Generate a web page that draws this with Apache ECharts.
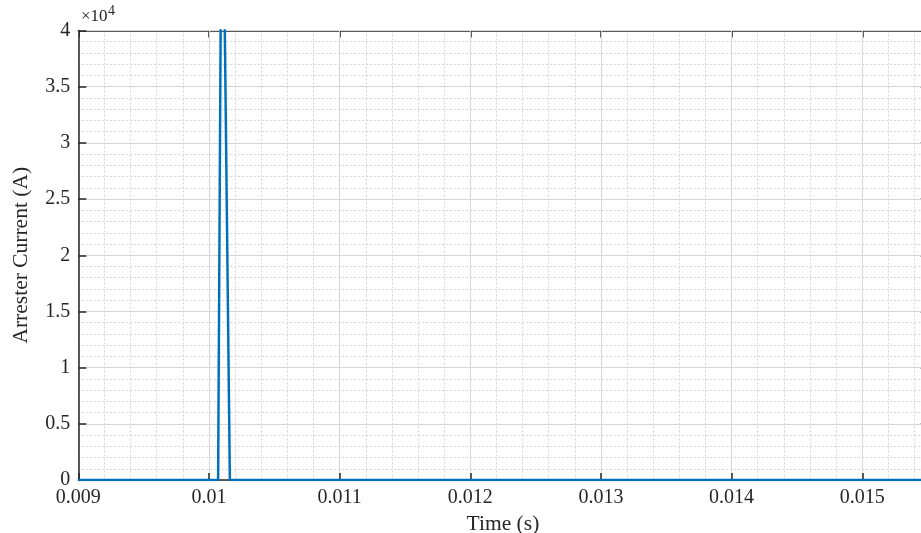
<!DOCTYPE html>
<html>
<head>
<meta charset="utf-8">
<script src="https://cdn.jsdelivr.net/npm/echarts@6/dist/echarts.min.js"></script>
<style>
  html, body { margin: 0; padding: 0; background: #fff; }
  #chart { width: 921px; height: 533px; }
</style>
</head>
<body>
<div id="chart"></div>
<script>
// Arrester current during the surge (time in s, current in A)
const timeS = [0.009, 0.01007, 0.0101, 0.01016, 0.0155];
const currentA = [0, 0, 62000, 0, 0];

// Axis ranges and tick steps
const xRange = [0.009, 0.0155];
const xStep = 0.001;
const xMinorStep = 0.0002;
const yRange = [0, 40000];
const yStep = 5000;
const yScaleExp = 4;

const FONT = '"Liberation Serif", "Times New Roman", serif';
const TEXT = '#262626';
const AXIS = '#262626';

const chart = echarts.init(document.getElementById('chart'), null, { renderer: 'canvas' });

const points = timeS.map((t, i) => [t, currentA[i]]);

function fmtX(v) {
  return String(Number(v.toFixed(4)));
}

chart.setOption({
  animation: false,
  backgroundColor: '#ffffff',
  grid: {
    left: 78.3, top: 30.5, bottom: 53, right: -6.6,
    containLabel: false, outerBoundsMode: 'none'
  },
  xAxis: [
    {
      type: 'value', min: xRange[0], max: xRange[1], interval: xStep,
      position: 'bottom',
      name: 'Time (s)', nameLocation: 'middle', nameGap: 29,
      nameTextStyle: { fontFamily: FONT, fontSize: 21.5, color: TEXT },
      axisLine: { show: true, onZero: false, lineStyle: { color: AXIS, width: 1.5 } },
      axisTick: { show: true, inside: true, length: 7, lineStyle: { color: AXIS, width: 1.5 } },
      axisLabel: { show: true, formatter: fmtX, fontFamily: FONT, fontSize: 20, color: TEXT, margin: 8, showMaxLabel: false },
      splitLine: { show: true, lineStyle: { color: '#d6d6d6', width: 1 } },
      z: 3
    },
    {
      type: 'value', min: xRange[0], max: xRange[1], interval: xStep,
      position: 'top',
      axisLine: { show: true, onZero: false, lineStyle: { color: AXIS, width: 1.5 } },
      axisTick: { show: true, inside: true, length: 7, lineStyle: { color: AXIS, width: 1.5 } },
      axisLabel: { show: false },
      splitLine: { show: false }
    },
    {
      // minor vertical grid
      type: 'value', min: xRange[0], max: xRange[1], interval: xMinorStep,
      position: 'bottom',
      axisLine: { show: false }, axisTick: { show: false }, axisLabel: { show: false },
      splitLine: { show: true, lineStyle: { color: '#d4d4d4', width: 1, type: [2, 2] } },
      z: 0
    }
  ],
  yAxis: [
    {
      type: 'value', min: yRange[0], max: yRange[1], interval: yStep,
      position: 'left',
      name: 'Arrester Current (A)', nameLocation: 'middle', nameGap: 46,
      nameTextStyle: { fontFamily: FONT, fontSize: 21.5, color: TEXT },
      axisLine: { show: true, onZero: false, lineStyle: { color: AXIS, width: 1.5 } },
      axisTick: { show: true, inside: true, length: 8, lineStyle: { color: AXIS, width: 1.5 } },
      axisLabel: {
        show: true, fontFamily: FONT, fontSize: 20, color: TEXT, margin: 8,
        formatter: v => String(v / Math.pow(10, yScaleExp))
      },
      splitLine: { show: true, lineStyle: { color: '#d6d6d6', width: 1 } },
      minorTick: { show: false, splitNumber: 5 },
      minorSplitLine: { show: true, lineStyle: { color: '#d4d4d4', width: 1, type: [2, 2] } },
      z: 3
    },
    {
      type: 'value', min: yRange[0], max: yRange[1], interval: yStep,
      position: 'right',
      axisLine: { show: true, onZero: false, lineStyle: { color: AXIS, width: 1.5 } },
      axisTick: { show: true, inside: true, length: 7, lineStyle: { color: AXIS, width: 1.5 } },
      axisLabel: { show: false },
      splitLine: { show: false }
    }
  ],
  graphic: [
    { type: 'text', left: 81, top: 8, style: { text: '×10', font: '17px ' + FONT, fill: TEXT } },
    { type: 'text', left: 108, top: 4, style: { text: String(yScaleExp), font: '14px ' + FONT, fill: TEXT } }
  ],
  series: [
    {
      type: 'line',
      xAxisIndex: 0, yAxisIndex: 0,
      data: points,
      showSymbol: false,
      clip: true,
      lineStyle: { color: '#0072BD', width: 2.5 },
      itemStyle: { color: '#0072BD' },
      z: 5
    }
  ]
});
</script>
</body>
</html>
